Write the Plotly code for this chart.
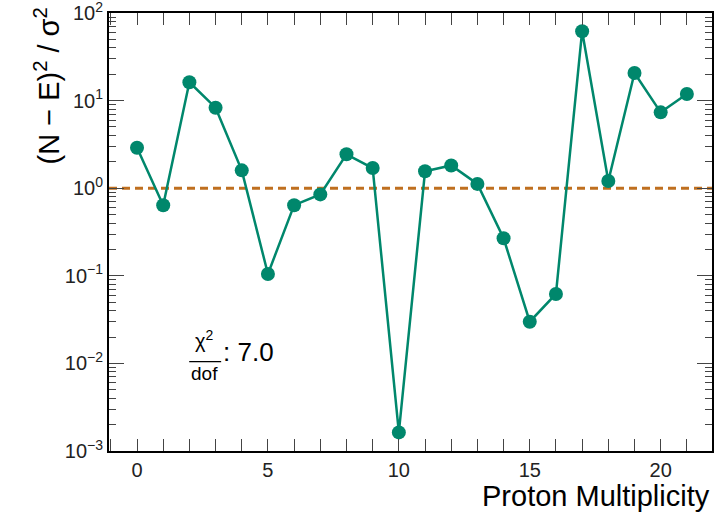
import plotly.graph_objects as go

# Data
multiplicity = list(range(22))
chi2_terms = [2.9, 0.64, 16.2, 8.3, 1.6, 0.105, 0.64, 0.85, 2.44, 1.70, 0.00163,
              1.56, 1.82, 1.12, 0.268, 0.0299, 0.062, 62.0, 1.21, 20.7, 7.35, 11.9]
chi2_per_dof = 7.0
reference_level = 1.0
y_tick_vals = [1e-3, 1e-2, 1e-1, 1e0, 1e1, 1e2]
y_tick_text = ["10<sup>\u22123</sup>", "10<sup>\u22122</sup>", "10<sup>\u22121</sup>",
               "10<sup>0</sup>", "10<sup>1</sup>", "10<sup>2</sup>"]
y_minor_vals = [m * 10.0 ** e for e in range(-3, 2) for m in range(2, 10)]
x_tick_vals = [0, 5, 10, 15, 20]

TEAL = "#00876c"
ORANGE = "#bf6f1f"
FONT = "Liberation Sans, Arial, sans-serif"
Y_RANGE = [-3.0004, 2.0004]
X_RANGE = [-1.07, 21.96]
TICK_COLOR = "#444"

fig = go.Figure()
# invisible helper trace so the minor-tick overlay axis (y2) is drawn
fig.add_trace(go.Scatter(
    x=multiplicity, y=chi2_terms, yaxis="y2", mode="markers",
    marker=dict(opacity=0), hoverinfo="skip", showlegend=False,
))
fig.add_trace(go.Scatter(
    x=multiplicity, y=chi2_terms, mode="lines+markers",
    line=dict(color=TEAL, width=2.5),
    marker=dict(color=TEAL, size=14),
    showlegend=False,
))

fig.add_shape(type="line", xref="x domain", yref="y", x0=0, x1=1,
              y0=reference_level, y1=reference_level,
              line=dict(color=ORANGE, width=3, dash="8px,5px"), layer="below")

fig.update_layout(
    width=718, height=516,
    margin=dict(l=109, r=6, t=13, b=65, autoexpand=False),
    paper_bgcolor="white", plot_bgcolor="white",
    font=dict(family=FONT, color="black"),
    xaxis=dict(
        range=X_RANGE, automargin=False,
        tickvals=x_tick_vals, ticktext=[str(v) for v in x_tick_vals],
        ticks="inside", ticklen=12, tickwidth=1.4, tickcolor=TICK_COLOR,
        minor=dict(ticks="inside", ticklen=6, dtick=1, tick0=0, tickwidth=1.4, tickcolor=TICK_COLOR),
        showline=True, linewidth=2, linecolor="black", mirror="allticks",
        showgrid=False, zeroline=False,
        tickfont=dict(size=20, family=FONT, color="#222"),
    ),
    yaxis=dict(
        type="log", range=Y_RANGE, automargin=False,
        tickvals=y_tick_vals, ticktext=y_tick_text,
        ticks="inside", ticklen=15, tickwidth=1.4, tickcolor=TICK_COLOR,
        showline=True, linewidth=2, linecolor="black", mirror="allticks",
        showgrid=False, zeroline=False, ticklabeloverflow="allow",
        tickfont=dict(size=20, family=FONT, color="#222"),
    ),
    yaxis2=dict(
        type="log", range=Y_RANGE, overlaying="y", side="left", automargin=False,
        tickmode="array", tickvals=y_minor_vals,
        ticks="inside", ticklen=7, tickwidth=1.4, tickcolor=TICK_COLOR,
        showline=True, linewidth=2, linecolor="black", mirror="allticks",
        showgrid=False, zeroline=False, showticklabels=False,
    ),
)

# Axis titles (ROOT-style, aligned to the ends)
fig.add_annotation(xref="paper", yref="paper", x=1.0, y=-0.103,
                   xanchor="right", yanchor="middle", showarrow=False,
                   text="Proton Multiplicity", font=dict(size=29, family=FONT, color="black"))
fig.add_annotation(xref="paper", yref="paper", x=-0.103, y=1.018,
                   xanchor="center", yanchor="top", showarrow=False, textangle=-90,
                   text="(N \u2212 E)<sup>2</sup> / \u03c3<sup>2</sup>",
                   font=dict(size=29, family=FONT, color="black"))

# chi2/dof label as a fraction
fig.add_annotation(xref="paper", yref="paper", x=0.159, y=0.255,
                   xanchor="center", yanchor="middle", showarrow=False,
                   text="\u03c7<sup>2</sup>", font=dict(size=20, family=FONT, color="black"))
fig.add_shape(type="line", xref="paper", yref="paper", x0=0.133, x1=0.186,
              y0=0.204, y1=0.204, line=dict(color="black", width=1.2))
fig.add_annotation(xref="paper", yref="paper", x=0.159, y=0.178,
                   xanchor="center", yanchor="middle", showarrow=False,
                   text="dof", font=dict(size=19, family=FONT, color="black"))
fig.add_annotation(xref="paper", yref="paper", x=0.186, y=0.226,
                   xanchor="left", yanchor="middle", showarrow=False,
                   text=f": {chi2_per_dof:.1f}", font=dict(size=26, family=FONT, color="black"))

fig.write_html("out.html")
